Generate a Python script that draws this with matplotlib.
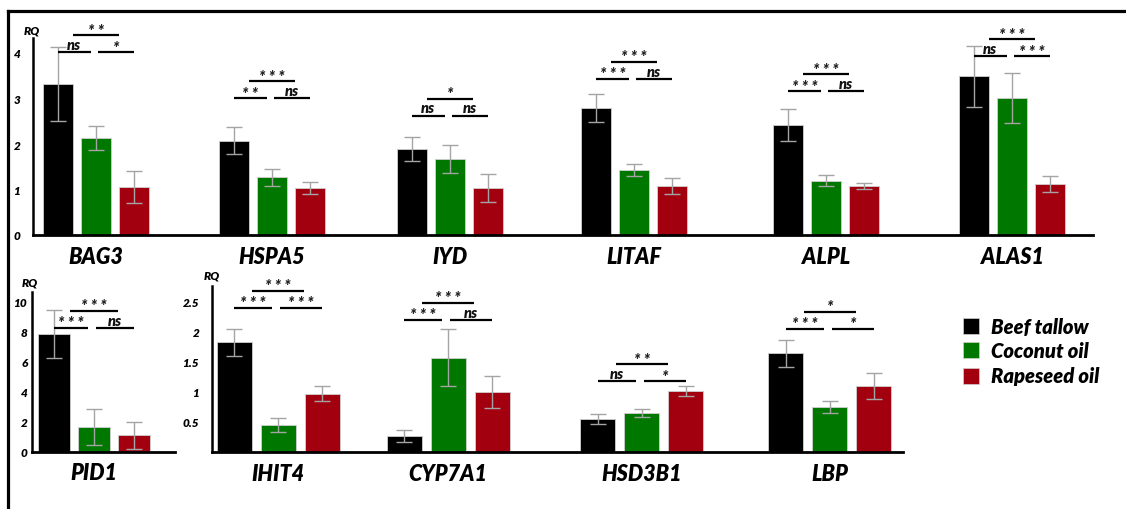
import matplotlib
matplotlib.use("Agg")
import matplotlib.pyplot as plt
from matplotlib.lines import Line2D
from matplotlib.patches import Rectangle
from matplotlib.transforms import offset_copy

# ---------------- data (relative quantity, mean and SD) ----------------
diets = ["Beef tallow", "Coconut oil", "Rapeseed oil"]

top_genes = ["BAG3", "HSPA5", "IYD", "LITAF", "ALPL", "ALAS1"]
top_tallow = [3.32, 2.07, 1.89, 2.79, 2.42, 3.49]
top_coconut = [2.13, 1.27, 1.67, 1.43, 1.19, 3.01]
top_rapeseed = [1.05, 1.03, 1.03, 1.08, 1.08, 1.12]
top_tallow_sd = [0.81, 0.30, 0.26, 0.31, 0.36, 0.67]
top_coconut_sd = [0.26, 0.19, 0.30, 0.14, 0.12, 0.55]
top_rapeseed_sd = [0.35, 0.13, 0.30, 0.18, 0.07, 0.18]
# (tallow vs coconut, coconut vs rapeseed, tallow vs rapeseed)
top_sig = [("ns", "*", "**"), ("**", "ns", "***"), ("ns", "ns", "*"),
           ("***", "ns", "***"), ("***", "ns", "***"), ("ns", "***", "***")]

pid1_gene = "PID1"
pid1_values = [7.87, 1.67, 1.13]
pid1_sd = [1.6, 1.2, 0.9]
pid1_sig = ("***", "ns", "***")

bottom_genes = ["IHIT4", "CYP7A1", "HSD3B1", "LBP"]
bottom_tallow = [1.83, 0.27, 0.55, 1.65]
bottom_coconut = [0.45, 1.57, 0.65, 0.75]
bottom_rapeseed = [0.97, 1.00, 1.02, 1.10]
bottom_tallow_sd = [0.225, 0.10, 0.09, 0.225]
bottom_coconut_sd = [0.11, 0.475, 0.07, 0.10]
bottom_rapeseed_sd = [0.125, 0.26, 0.085, 0.22]
bottom_sig = [("***", "***", "***"), ("***", "ns", "***"),
              ("ns", "*", "**"), ("***", "*", "*")]

top_ticks = [0, 1, 2, 3, 4]
pid1_ticks = [0, 2, 4, 6, 8, 10]
bottom_ticks = [0.5, 1, 1.5, 2, 2.5]

# ---------------- layout / style ----------------
W, H, DPI = 1126, 510, 100
colors = ["#000000", "#007800", "#a3000f"]
FONT = "Lato"
BI = dict(family=FONT, weight="heavy", style="italic")

top_centres = [96, 272, 450, 634, 826, 1012]
top_bracket = [4.02, 3.01, 2.62, 3.43, 3.16, 3.93]
pid1_centre = 94
pid1_bracket = 8.27
bottom_centres = [278, 448, 642, 830]
bottom_bracket = [2.40, 2.20, 1.18, 2.05]

fig = plt.figure(figsize=(W / DPI, H / DPI), dpi=DPI)
fig.patch.set_facecolor("white")


def px_rect(left, top, right, bottom):
    return [left / W, 1 - bottom / H, (right - left) / W, (bottom - top) / H]


def make_axes(left, top, right, bottom, spine_top, ppu, ticks, fmt, pad):
    ax = fig.add_axes(px_rect(left, top, right, bottom))
    ax.set_xlim(left, right)
    ax.set_ylim(0, (bottom - top) / ppu)
    ax.patch.set_alpha(0)
    for s in ("top", "right"):
        ax.spines[s].set_visible(False)
    ax.spines["left"].set_linewidth(1.8)
    ax.spines["bottom"].set_linewidth(2.0)
    ax.spines["left"].set_bounds(0, (bottom - spine_top) / ppu)
    ax.set_xticks([])
    ax.set_yticks(ticks)
    ax.set_yticklabels([fmt(t) for t in ticks])
    ax.tick_params(axis="y", length=0, pad=pad)
    for lab in ax.get_yticklabels():
        lab.set_fontfamily(FONT)
        lab.set_fontweight("heavy")
        lab.set_fontstyle("italic")
        lab.set_fontsize(8.5)
    return ax


def draw_group(ax, centre, pitch, width, values, sds):
    xs = [centre - pitch, centre, centre + pitch]
    ax.bar(xs, values, width=width, color=colors, edgecolor="#d0d0d0",
           linewidth=0.6, zorder=2)
    ax.errorbar(xs, values, yerr=sds, fmt="none", ecolor="#a4a4a4",
                elinewidth=1.0, capsize=5.5, capthick=1.0, zorder=3)


def draw_brackets(ax, centre, pitch, level, ppu, labels):
    upper = level + 17 / ppu
    spans = [((centre - pitch, centre - 0.14 * pitch), level),
             ((centre + 0.05 * pitch, centre + pitch), level),
             ((centre - 0.6 * pitch, centre + 0.6 * pitch), upper)]
    ns_tr = offset_copy(ax.transData, fig=fig, y=1.0, units="points")
    star_tr = offset_copy(ax.transData, fig=fig, y=-2.5, units="points")
    for ((x0, x1), y), lab in zip(spans, labels):
        ax.plot([x0, x1], [y, y], color="black", lw=1.6,
                solid_capstyle="butt", clip_on=False, zorder=4)
        if lab == "ns":
            ax.text((x0 + x1) / 2, y, lab, transform=ns_tr, ha="center",
                    va="bottom", fontsize=10.5, color="#111111", **BI)
        else:
            ax.text((x0 + x1) / 2, y, " ".join(lab), transform=star_tr,
                    ha="center", va="bottom", fontsize=11.5,
                    color="#222222", **BI)


def gene_label(ax, centre, name, drop):
    ax.annotate(name, xy=(centre, 0), xytext=(0, -drop * 72 / DPI),
                textcoords="offset points", ha="center", va="center",
                fontsize=15.5, color="black", **BI)


int_fmt = lambda t: f"{t:g}"

# ---- top row: one shared scale ----
TOP_PPU = 45.5
ax_top = make_axes(33, 14, 1093, 236, 39, TOP_PPU, top_ticks, int_fmt, 9)
for i, gene in enumerate(top_genes):
    c = top_centres[i]
    draw_group(ax_top, c, 38, 30,
               [top_tallow[i], top_coconut[i], top_rapeseed[i]],
               [top_tallow_sd[i], top_coconut_sd[i], top_rapeseed_sd[i]])
    draw_brackets(ax_top, c, 38, top_bracket[i], TOP_PPU, top_sig[i])
    gene_label(ax_top, c, gene, 21)

# ---- bottom row: PID1 on its own scale ----
PID_PPU = 15
ax_pid = make_axes(32, 270, 175, 453, 293, PID_PPU, pid1_ticks, int_fmt, 3)
draw_group(ax_pid, pid1_centre, 40, 32, pid1_values, pid1_sd)
draw_brackets(ax_pid, pid1_centre, 40, pid1_bracket, PID_PPU, pid1_sig)
gene_label(ax_pid, pid1_centre, pid1_gene, 21)

# ---- bottom row: remaining genes on a shared scale ----
BOT_PPU = 60
ax_bot = make_axes(212, 270, 903, 453, 287, BOT_PPU, bottom_ticks, int_fmt, 9)
for i, gene in enumerate(bottom_genes):
    c = bottom_centres[i]
    draw_group(ax_bot, c, 44, 35,
               [bottom_tallow[i], bottom_coconut[i], bottom_rapeseed[i]],
               [bottom_tallow_sd[i], bottom_coconut_sd[i], bottom_rapeseed_sd[i]])
    draw_brackets(ax_bot, c, 44, bottom_bracket[i], BOT_PPU, bottom_sig[i])
    gene_label(ax_bot, c, gene, 22)

# axis titles
for x, y in [(32, 31), (30, 283), (212, 276)]:
    fig.text(x / W, 1 - y / H, "RQ", ha="center", va="center",
             fontsize=8.5, **BI)

# legend
for k, (name, col) in enumerate(zip(diets, colors)):
    yc = [327, 351, 377][k]
    fig.add_artist(Rectangle((963 / W, 1 - (yc + 8) / H), 16 / W, 16 / H,
                             transform=fig.transFigure, facecolor=col,
                             edgecolor="#d0d0d0", linewidth=0.5))
    fig.text(991 / W, 1 - yc / H, name, ha="left", va="center",
             fontsize=14.5, **BI)

# outer frame
fig.add_artist(Line2D([8 / W, 1], [1 - 12 / H, 1 - 12 / H],
                      transform=fig.transFigure, color="black", lw=2.3))
fig.add_artist(Line2D([8 / W, 8 / W], [1 - 12 / H, 0],
                      transform=fig.transFigure, color="black", lw=2.3))

fig.savefig("out.png", dpi=DPI)
